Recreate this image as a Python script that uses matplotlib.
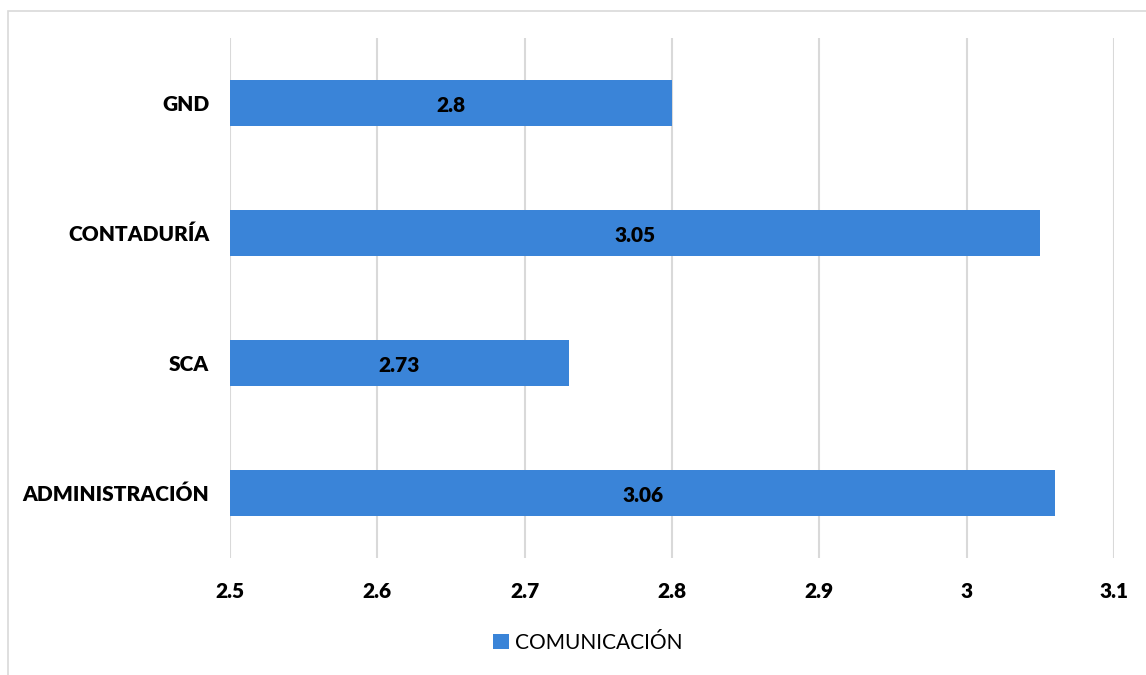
import matplotlib
matplotlib.use("Agg")
import matplotlib.pyplot as plt
from matplotlib.patches import Rectangle

# carreras y puntaje promedio en comunicación
carreras = ["ADMINISTRACIÓN", "SCA", "CONTADURÍA", "GND"]
puntajes = [3.06, 2.73, 3.05, 2.8]
ticks_x = [2.5, 2.6, 2.7, 2.8, 2.9, 3.0, 3.1]
etiquetas_x = ["2.5", "2.6", "2.7", "2.8", "2.9", "3", "3.1"]

azul = "#3A84D8"
plt.rcParams["font.family"] = ["Lato", "DejaVu Sans"]

fig = plt.figure(figsize=(11.46, 6.75), dpi=100)
ax = fig.add_axes([230 / 1146, 1 - 558 / 675, (1114 - 230) / 1146, (558 - 38) / 675])

# marco gris del área del gráfico
fig.patches.append(Rectangle((8 / 1146, -0.01), 1.0, 1 - 11 / 675 + 0.01,
                             transform=fig.transFigure, fill=False,
                             edgecolor="#d9d9d9", linewidth=1.2))

pos = list(range(len(carreras)))
barras = ax.barh(pos, [p - 2.5 for p in puntajes], left=2.5, height=0.355,
                 color=azul, label="COMUNICACIÓN", zorder=3)
for b, p in zip(barras, puntajes):
    ax.text(b.get_x() + b.get_width() / 2, b.get_y() + b.get_height() / 2 - 0.02,
            f"{p:g}", ha="center", va="center", fontsize=15, fontweight="heavy",
            color="black", zorder=4)

ax.set_xlim(2.5, 3.1)
ax.set_ylim(-0.5, 3.5)
ax.set_xticks(ticks_x)
ax.set_xticklabels(etiquetas_x, fontsize=15, fontweight="heavy")
ax.set_yticks(pos)
ax.set_yticklabels(carreras, fontsize=15, fontweight="heavy")
ax.tick_params(length=0, pad=15, axis="y")
ax.tick_params(length=0, pad=17, axis="x")
ax.grid(axis="x", color="#d9d9d9", linewidth=1.5, zorder=0)
for s in ax.spines.values():
    s.set_visible(False)

fig.legend(loc="center", bbox_to_anchor=(588 / 1146, 1 - 643 / 675), frameon=False,
           fontsize=15, handlelength=0.75, handleheight=0.75, handletextpad=0.3)

fig.savefig("out.png", dpi=100)
